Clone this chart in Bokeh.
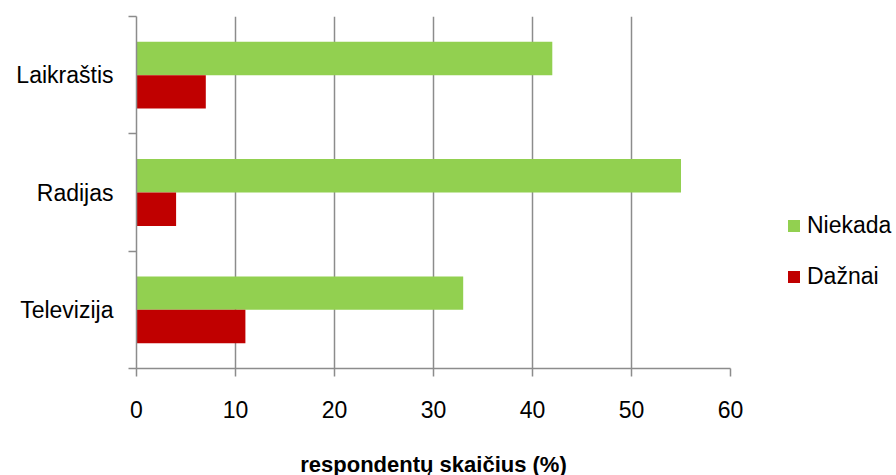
from bokeh.plotting import figure
from bokeh.models import Range1d, LinearAxis, FixedTicker, Legend, LegendItem
from bokeh.embed import file_html
from bokeh.resources import INLINE

# Media categories, listed bottom to top
categories = ["Televizija", "Radijas", "Laikraštis"]
niekada = [33, 55, 42]
daznai = [11, 4, 7]
series_names = ["Niekada", "Dažnai"]
x_ticks = [0, 10, 20, 30, 40, 50, 60]
x_title = "respondentų skaičius (%)"

GREEN = "#92D050"
RED = "#C00000"
GREY = "#8C8C8C"
FONT = "Liberation Sans"

bar_h = 0.285
centers = [i + 0.5 for i in range(len(categories))]
boundaries = list(range(len(categories) + 1))

p = figure(
    frame_width=594, frame_height=352,
    min_border_left=136, min_border_right=166,
    min_border_top=16, min_border_bottom=107,
    x_range=Range1d(0, 60), y_range=Range1d(0, len(categories)),
    x_axis_location=None, y_axis_location=None,
    output_backend="svg", toolbar_location=None,
)
p.outline_line_color = None
p.background_fill_color = "white"
p.border_fill_color = "white"

r_green = p.hbar(y=[c + bar_h / 2 for c in centers], right=niekada, left=0,
                 height=bar_h, fill_color=GREEN, line_color=None)
r_red = p.hbar(y=[c - bar_h / 2 for c in centers], right=daznai, left=0,
               height=bar_h, fill_color=RED, line_color=None)

# vertical grid lines
p.xgrid.ticker = FixedTicker(ticks=x_ticks)
p.xgrid.grid_line_color = GREY
p.xgrid.grid_line_width = 1.5
p.ygrid.grid_line_color = None

# bottom value axis
xa = LinearAxis(ticker=FixedTicker(ticks=x_ticks))
xa.axis_line_color = GREY
xa.axis_line_width = 1.5
xa.major_tick_line_color = GREY
xa.major_tick_line_width = 1.5
xa.major_tick_in = 0
xa.major_tick_out = 8
xa.minor_tick_line_color = None
xa.major_label_text_font = FONT
xa.major_label_text_font_size = "23px"
xa.major_label_text_color = "black"
xa.major_label_standoff = 24
xa.axis_label = x_title
xa.axis_label_text_font = FONT
xa.axis_label_text_font_size = "22px"
xa.axis_label_text_font_style = "bold"
xa.axis_label_text_color = "black"
xa.axis_label_standoff = 31
p.add_layout(xa, "below")

# left category axis: names centred in each band, tick marks on the boundaries
ya = LinearAxis(ticker=FixedTicker(ticks=centers, minor_ticks=boundaries))
ya.major_label_overrides = {c: name for c, name in zip(centers, categories)}
ya.axis_line_color = GREY
ya.axis_line_width = 1.5
ya.major_tick_line_color = None
ya.major_tick_in = 0
ya.major_tick_out = 0
ya.minor_tick_line_color = GREY
ya.minor_tick_line_width = 1.5
ya.minor_tick_in = 0
ya.minor_tick_out = 8
ya.major_label_text_font = FONT
ya.major_label_text_font_size = "23px"
ya.major_label_text_color = "black"
ya.major_label_standoff = 15
p.add_layout(ya, "left")

legend = Legend(
    items=[LegendItem(label=series_names[0], renderers=[r_green]),
           LegendItem(label=series_names[1], renderers=[r_red])],
    location=(56, 78),
    orientation="vertical",
    glyph_width=15, glyph_height=15,
    label_text_font=FONT, label_text_font_size="23px",
    label_text_color="black", label_height=23, label_standoff=6,
    spacing=24, padding=0, margin=0,
    border_line_color=None, background_fill_alpha=0,
)
p.add_layout(legend, "right")

open("out.html", "w").write(file_html(p, INLINE))
